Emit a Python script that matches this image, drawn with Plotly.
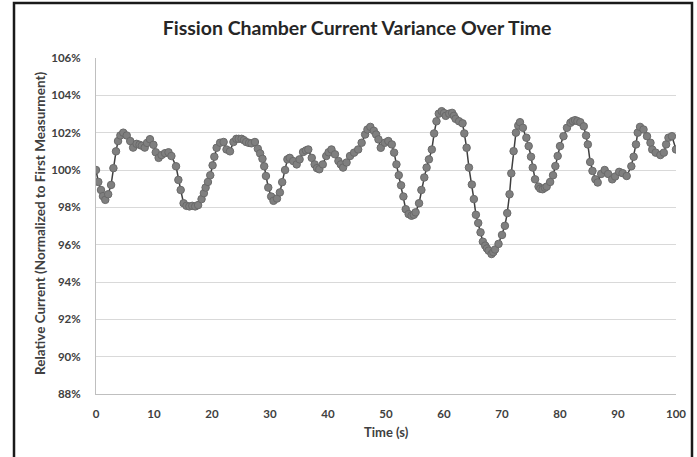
import plotly.graph_objects as go

time_s = [0, 0.4, 0.86, 1.2, 1.6, 2.1, 2.6, 3.0, 3.45, 3.8, 4.2, 4.7, 5.3, 5.9, 6.4, 7.0, 7.5, 7.9, 8.4, 8.8,
          9.3, 9.9, 10.3, 10.8, 11.3, 11.9, 12.5, 13.0, 13.8, 14.2, 14.6, 15.1, 15.6, 16.1, 16.6, 17.1, 17.6,
          18.2, 18.6, 18.9, 19.3, 19.7, 20.1, 20.4, 20.8, 21.4, 22.0, 22.5, 23.1, 23.7, 24.2, 24.6, 25.1, 25.5,
          25.9, 26.4, 26.8, 27.4, 27.9, 28.3, 28.7, 29.0, 29.3, 29.7, 30.2, 30.6, 31.2, 31.7, 32.1, 32.6, 33.0,
          33.4, 34.0, 34.6, 35.1, 35.7, 36.2, 36.6, 37.2, 37.7, 38.1, 38.5, 39.1, 39.7, 40.1, 40.6, 41.2, 41.8,
          42.2, 42.6, 43.2, 43.8, 44.5, 45.2, 45.8, 46.4, 46.8, 47.3, 47.9, 48.3, 48.7, 49.1, 49.8, 50.4, 51.0,
          51.4, 51.8, 52.2, 52.6, 53.0, 53.4, 53.9, 54.4, 54.8, 55.1, 55.7, 56.1, 56.6, 57.0, 57.4, 57.9, 58.3,
          58.7, 59.1, 59.6, 60.0, 60.3, 60.9, 61.4, 61.7, 62.0, 62.6, 63.2, 63.5, 63.9, 64.3, 64.8, 65.15, 65.5,
          65.9, 66.3, 66.7, 67.1, 67.4, 67.7, 68.2, 68.5, 68.8, 69.4, 70.0, 70.5, 70.9, 71.3, 71.6, 72.0, 72.4,
          72.8, 73.1, 73.6, 74.2, 74.6, 75.0, 75.3, 75.7, 76.3, 76.6, 77.0, 77.4, 77.7, 78.3, 78.8, 79.2, 79.6,
          80.0, 80.6, 81.2, 81.8, 82.2, 82.6, 83.0, 83.5, 84.1, 84.5, 84.8, 85.2, 85.6, 86.1, 86.5, 87.1, 87.7,
          88.3, 89.0, 89.5, 90.2, 90.8, 91.5, 92.3, 92.7, 93.1, 93.4, 93.8, 94.4, 95.0, 95.6, 95.9, 96.5, 97.3,
          97.9, 98.3, 98.7, 99.3, 100.0]

relative_current = [100.0, 99.36, 98.93, 98.6, 98.4, 98.7, 99.2, 100.1, 101.0, 101.55, 101.85, 102.0, 101.85,
                    101.55, 101.2, 101.4, 101.35, 101.3, 101.2, 101.45, 101.65, 101.35, 100.95, 100.65, 100.8,
                    100.9, 100.95, 100.75, 100.2, 99.47, 98.93, 98.22, 98.08, 98.05, 98.08, 98.05, 98.12,
                    98.44, 98.76, 99.06, 99.36, 99.72, 100.25, 100.71, 101.19, 101.46, 101.5, 101.1, 101.0,
                    101.5, 101.67, 101.67, 101.67, 101.6, 101.5, 101.45, 101.43, 101.5, 101.14, 100.89, 100.6,
                    100.2, 99.68, 99.06, 98.58, 98.35, 98.47, 98.8, 99.35, 100.0, 100.57, 100.65, 100.48, 100.3,
                    100.57, 100.96, 101.05, 101.1, 100.65, 100.3, 100.1, 100.04, 100.3, 100.75, 100.95, 101.1,
                    100.84, 100.48, 100.3, 100.13, 100.4, 100.75, 100.93, 101.1, 101.46, 101.9, 102.17, 102.31,
                    102.1, 101.9, 101.64, 101.19, 101.46, 101.55, 101.37, 100.93, 100.3, 99.72, 99.18, 98.58,
                    97.9, 97.64, 97.55, 97.6, 97.73, 98.22, 98.93, 99.6, 100.13, 100.57, 101.1, 101.96, 102.61,
                    103.02, 103.15, 103.05, 102.9, 103.02, 103.06, 102.9, 102.74, 102.61, 102.5, 101.96, 101.19,
                    100.13, 99.22, 98.44, 97.6, 97.16, 96.66, 96.16, 95.95, 95.8, 95.68, 95.5, 95.6, 95.74,
                    96.04, 96.52, 97.01, 97.69, 98.7, 99.82, 101.01, 102.0, 102.38, 102.56, 102.26, 101.73,
                    101.28, 100.71, 100.13, 99.5, 99.11, 99.0, 98.97, 99.05, 99.11, 99.36, 99.72, 100.21,
                    100.75, 101.28, 101.81, 102.26, 102.53, 102.62, 102.67, 102.62, 102.56, 102.34, 101.85,
                    101.37, 100.43, 99.95, 99.5, 99.33, 99.79, 100.0, 99.79, 99.5, 99.65, 99.9, 99.83, 99.68,
                    100.2, 100.71, 101.37, 102.0, 102.31, 102.17, 101.81, 101.46, 101.1, 100.93, 100.8, 100.93,
                    101.37, 101.73, 101.81, 101.1]

y_ticks = [88, 90, 92, 94, 96, 98, 100, 102, 104, 106]
y_tick_labels = [f"{v}%" for v in y_ticks]
x_ticks = list(range(0, 101, 10))

FONT = "Lato"
TXT = "#404040"

fig = go.Figure()
fig.add_trace(go.Scatter(
    x=time_s, y=relative_current, mode="lines+markers",
    line=dict(color="#3f3f3f", width=1.5),
    marker=dict(size=7.5, color="#7f7f7f", line=dict(color="#6a6a6a", width=1)),
    showlegend=False,
))

L, R, T, B = 96, 21, 58, 63
W, H = 697, 457
pw, ph = W - L - R, H - T - B

fig.update_layout(
    width=W, height=H,
    margin=dict(l=L, r=R, t=T, b=B),
    paper_bgcolor="white", plot_bgcolor="white",
    font=dict(family=FONT, color=TXT),
    title=dict(text="<b>Fission Chamber Current Variance Over Time</b>",
               font=dict(size=19.5, color="#262626", family=FONT),
               x=357 / W, xanchor="center", y=1 - 28 / H, yanchor="middle"),
    xaxis=dict(range=[0, 100], tickvals=x_ticks, ticktext=[f"<b>{v}</b>" for v in x_ticks],
               showgrid=False, zeroline=False, showline=True, linecolor="#bfbfbf", linewidth=1,
               ticks="", tickfont=dict(size=11.5, color=TXT), ticklabelstandoff=9),
    yaxis=dict(range=[88, 106], tickvals=y_ticks, ticktext=[f"<b>{t}</b>" for t in y_tick_labels],
               showgrid=True, gridcolor="#d9d9d9", gridwidth=1, zeroline=False,
               showline=True, linecolor="#bfbfbf", linewidth=1,
               ticks="", tickfont=dict(size=11.5, color=TXT), ticklabelstandoff=12),
)

# axis titles placed as annotations
fig.add_annotation(text="<b>Time (s)</b>", xref="paper", yref="paper",
                   x=(386 - L) / pw, y=(H - B - 432) / ph, xanchor="center", yanchor="middle",
                   showarrow=False, font=dict(size=13, color=TXT, family=FONT))
fig.add_annotation(text="<b>Relative Current (Normalized to First Measurment)</b>", xref="paper", yref="paper",
                   x=(40 - L) / pw, y=(H - B - 224) / ph, xanchor="center", yanchor="middle",
                   textangle=-90, showarrow=False, font=dict(size=13.5, color=TXT, family=FONT))

# outer chart-area border
fig.add_shape(type="rect", xref="paper", yref="paper",
              x0=(14 - L) / pw, x1=(692 - L) / pw,
              y0=(H - B - 480) / ph, y1=(H - B - 3) / ph,
              line=dict(color="#1a1a1a", width=2.5), fillcolor="rgba(0,0,0,0)", layer="below")

fig.write_html("out.html")
